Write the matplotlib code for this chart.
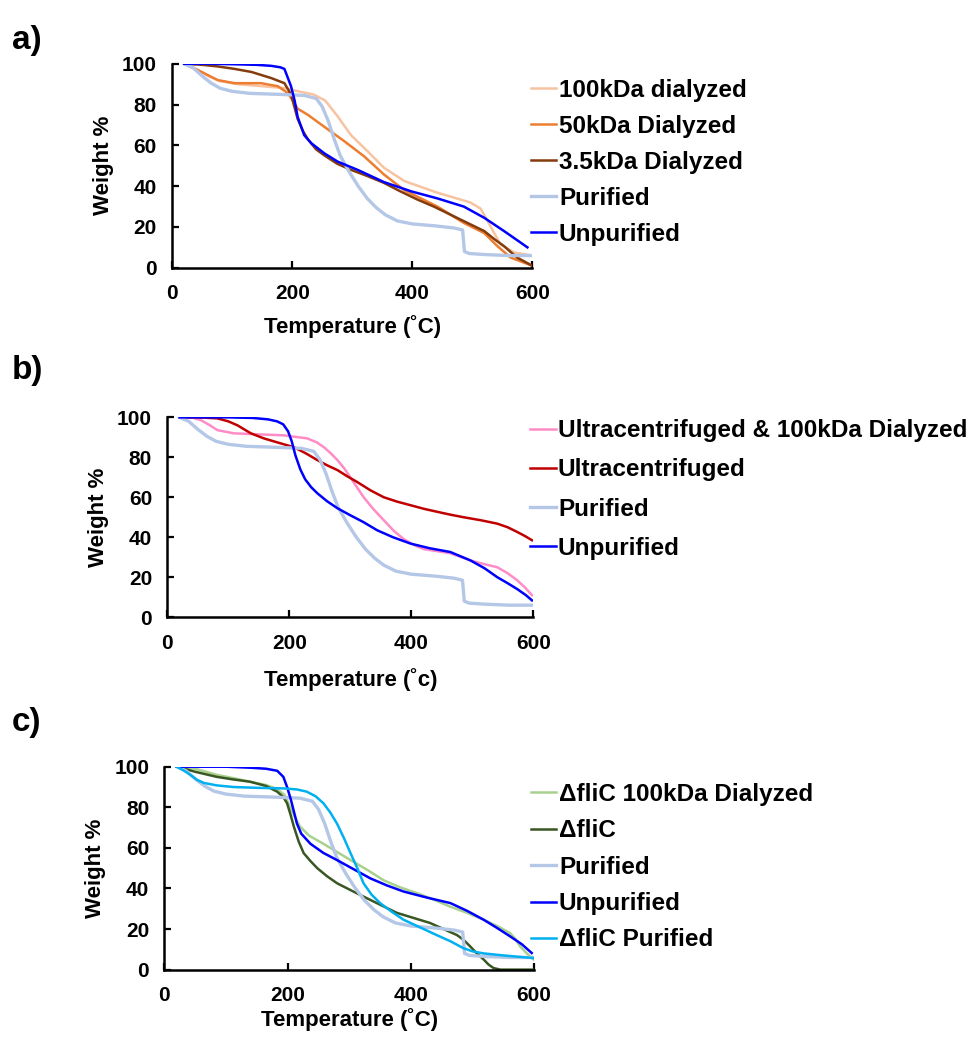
import matplotlib
matplotlib.use('Agg')
import matplotlib.pyplot as plt

plt.rcParams['font.family'] = ['Liberation Sans', 'DejaVu Sans']
plt.rcParams['font.weight'] = 'bold'
plt.rcParams['axes.labelweight'] = 'bold'

# ---- shared curves ----
pur_t = [20, 35, 50, 65, 80, 100, 130, 180, 220, 240, 250, 260, 270, 280, 295, 310, 325, 340, 355, 375, 400, 440, 470, 484, 487, 495, 520, 560, 600]
pur_w = [100, 98, 94, 90.5, 88, 86.5, 85.5, 85, 84.5, 83, 79, 72, 63, 55, 47, 40, 34, 29.5, 26, 23, 21.5, 20.5, 19.5, 18.5, 8, 7, 6.5, 6, 6]

# ---- panel a ----
unpur_a_t = [20, 60, 100, 140, 165, 180, 187, 198, 204, 209, 220, 232, 254, 276, 309, 353, 398, 442, 486, 520, 553, 575, 592]
unpur_a_w = [100, 100, 99.8, 99.5, 99, 98.3, 97.5, 89, 82, 74, 65, 61, 56, 52, 48, 42, 37.5, 34, 30, 24.5, 18, 13.5, 10]

d100_t = [20, 40, 60, 80, 110, 150, 190, 210, 235, 255, 275, 298, 326, 353, 387, 440, 497, 514, 531, 547, 570, 600]
d100_w = [100, 97.5, 94, 91.5, 90, 89, 88, 86.5, 85, 82, 74.5, 65, 57, 49, 42.5, 37, 32, 29, 20, 11.5, 7.5, 6]

d50_t = [20, 49, 76, 104, 148, 176, 193, 209, 226, 254, 287, 320, 353, 387, 442, 486, 520, 542, 564, 600]
d50_w = [100, 96, 92, 90.5, 90.5, 89, 85.6, 78, 75, 69, 62, 54.6, 45.7, 38, 30, 22, 17, 10.6, 5, 1]

d35_t = [20, 50, 76, 104, 132, 165, 187, 198, 209, 218, 226, 240, 254, 275, 298, 325, 353, 380, 409, 436, 464, 492, 520, 537, 553, 565, 575, 600]
d35_w = [100, 99.5, 98.7, 97.5, 96, 93, 90.5, 85, 73, 67, 63, 58, 55, 51, 48, 45, 41.6, 37.5, 33.4, 30, 26, 22, 18, 14, 10.6, 7.5, 5, 1]

# ---- panel b ----
uc100_t = [20, 40, 55, 70, 82, 109, 150, 191, 229, 245, 257, 268, 279, 290, 300, 311, 322, 338, 355, 372, 388, 405, 421, 443, 464, 497, 520, 541, 558, 574, 586, 598]
uc100_w = [100, 100, 98.6, 96, 93.6, 92, 91.5, 91, 89.5, 87.5, 85, 82, 78.6, 74.5, 70, 65, 60, 54, 48.5, 43, 39, 36, 34, 33, 32, 28.4, 26.5, 25, 22, 18.4, 15, 11]

uc_t = [20, 50, 82, 100, 115, 126, 137, 158, 180, 208, 227, 246, 262, 279, 295, 311, 333, 355, 377, 399, 421, 443, 464, 486, 514, 541, 558, 574, 587, 598]
uc_w = [100, 100, 99.5, 98, 96, 94, 92, 89.5, 87.5, 85, 82, 78.6, 76, 73.6, 70.5, 67.7, 63.5, 60, 57.8, 56, 54.2, 52.7, 51.3, 50, 48.5, 46.8, 45, 42.6, 40.5, 38.5]

unpur_b_t = [20, 60, 100, 140, 165, 180, 190, 198, 204, 210, 218, 226, 236, 246, 262, 279, 300, 322, 344, 370, 399, 430, 464, 497, 520, 541, 558, 574, 588, 598]
unpur_b_w = [100, 100, 100, 99.7, 99, 98, 96.5, 93, 88, 81, 74, 69, 65, 62, 58, 54.5, 51, 47.5, 43.5, 40, 36.8, 34.5, 32.6, 28.4, 24.5, 20, 17, 14, 11, 8.4]

# ---- panel c ----
fd100_t = [20, 50, 85, 110, 139, 165, 183, 195, 204, 212, 220, 235, 258, 280, 302, 330, 356, 383, 410, 437, 464, 491, 518, 540, 561, 570, 577, 588, 599]
fd100_w = [100, 99, 96, 94.5, 92.6, 91, 89, 86, 80, 75, 70.5, 66, 62, 58, 54, 49, 44, 40.5, 37.7, 34.5, 31, 28, 24.6, 21.5, 18, 15, 11.5, 8, 5]

fli_t = [20, 50, 85, 110, 139, 165, 183, 193, 199, 205, 210, 218, 226, 237, 248, 264, 280, 300, 323, 350, 377, 404, 431, 453, 475, 486, 496, 507, 518, 526, 534, 545, 600]
fli_w = [100, 97.5, 95, 93.8, 92.6, 90.5, 87.7, 85, 82, 76, 70.5, 63, 57.4, 53.5, 50, 46, 42.6, 39.5, 36, 32, 28, 25.5, 23, 20, 17, 14.5, 11.5, 8, 5, 2.5, 0.8, 0, 0]

flp_t = [20, 32, 42, 53, 64, 85, 112, 150, 194, 215, 231, 245, 258, 269, 280, 291, 302, 313, 323, 336, 350, 369, 388, 415, 442, 464, 485, 500, 518, 550, 599]
flp_w = [100, 98, 96, 93.5, 92, 90.8, 90, 89.6, 89.3, 88.8, 87.7, 85.5, 82, 77.5, 72, 65, 57.4, 50, 42.6, 37, 32.8, 28.5, 24.6, 20.8, 17, 14, 10.6, 9, 8, 7, 5.7]

unpur_c_t = [20, 60, 100, 140, 165, 183, 193, 199, 205, 210, 215, 222, 237, 258, 280, 307, 334, 361, 388, 426, 464, 491, 518, 540, 561, 580, 596]
unpur_c_w = [100, 100, 100, 99.5, 99, 98, 95, 90, 84, 78, 72, 67, 62, 57.5, 54, 49.5, 45, 41.5, 38.5, 35.5, 32.8, 29, 24.6, 20.5, 16.4, 12.5, 8.2]

BLUE = '#0000FF'
PUR = '#B4C7E7'

fig = plt.figure(figsize=(9.73, 10.46), dpi=100)


def style(ax, xlab, xpad):
    ax.set_xlim(0, 600)
    ax.set_ylim(0, 100)
    ax.set_xticks([0, 200, 400, 600])
    ax.set_yticks([0, 20, 40, 60, 80, 100])
    ax.spines['top'].set_visible(False)
    ax.spines['right'].set_visible(False)
    for s in ['left', 'bottom']:
        ax.spines[s].set_linewidth(1.8)
    ax.tick_params(axis='both', direction='in', length=5, width=1.6, labelsize=15)
    ax.tick_params(axis='y', pad=11)
    ax.tick_params(axis='x', pad=12)
    ax.set_ylabel('Weight %', fontsize=16, labelpad=6)
    ax.set_xlabel(xlab, fontsize=16, labelpad=xpad)
    for lb in ax.get_xticklabels() + ax.get_yticklabels():
        lb.set_fontweight('bold')


def add_legend(ax, x, y, sp):
    ax.legend(loc='upper left', bbox_to_anchor=(x, y), bbox_transform=fig.transFigure,
              frameon=False, fontsize=17.5, handlelength=1.05, handletextpad=0.1,
              labelspacing=sp, borderpad=0, borderaxespad=0)


kw = dict(lw=1.8, solid_joinstyle='round')

# a)
ax1 = fig.add_axes([0.177, 0.744, 0.370, 0.195])
ax1.plot(d100_t, d100_w, color='#F7C3A0', label='100kDa dialyzed', **kw)
ax1.plot(d50_t, d50_w, color='#ED7D31', label='50kDa Dialyzed', **kw)
ax1.plot(d35_t, d35_w, color='#843C0C', label='3.5kDa Dialyzed', **kw)
ax1.plot(pur_t, pur_w, color=PUR, lw=2.4, solid_joinstyle='round', label='Purified')
ax1.plot(unpur_a_t, unpur_a_w, color=BLUE, label='Unpurified', **kw)
style(ax1, 'Temperature (˚C)', 8)
add_legend(ax1, 0.5457, 0.9245, 0.53)

# b)
ax2 = fig.add_axes([0.172, 0.410, 0.376, 0.191])
ax2.plot(uc100_t, uc100_w, color='#FF8CC6', label='Ultracentrifuged & 100kDa Dialyzed', **kw)
ax2.plot(uc_t, uc_w, color='#C00000', label='Ultracentrifuged', **kw)
ax2.plot(pur_t, pur_w, color=PUR, lw=2.4, solid_joinstyle='round', label='Purified')
ax2.plot(unpur_b_t, unpur_b_w, color=BLUE, label='Unpurified', **kw)
style(ax2, 'Temperature (˚c)', 11)
add_legend(ax2, 0.5447, 0.5994, 0.67)

# c)
ax3 = fig.add_axes([0.169, 0.073, 0.380, 0.194])
ax3.plot(fd100_t, fd100_w, color='#A9D18E', label='ΔfliC 100kDa Dialyzed', **kw)
ax3.plot(fli_t, fli_w, color='#385723', label='ΔfliC', **kw)
ax3.plot(pur_t, pur_w, color=PUR, lw=2.4, solid_joinstyle='round', label='Purified')
ax3.plot(unpur_c_t, unpur_c_w, color=BLUE, label='Unpurified', **kw)
ax3.plot(flp_t, flp_w, color='#00B0F0', label='ΔfliC Purified', **kw)
style(ax3, 'Temperature (˚C)', 2)
add_legend(ax3, 0.5457, 0.2515, 0.55)

fig.text(0.012, 1 - 40 / 1046, 'a)', fontsize=24, fontweight='bold', va='center')
fig.text(0.012, 1 - 370 / 1046, 'b)', fontsize=24, fontweight='bold', va='center')
fig.text(0.012, 1 - 722 / 1046, 'c)', fontsize=24, fontweight='bold', va='center')

fig.savefig('out.png', dpi=100, facecolor='white')
